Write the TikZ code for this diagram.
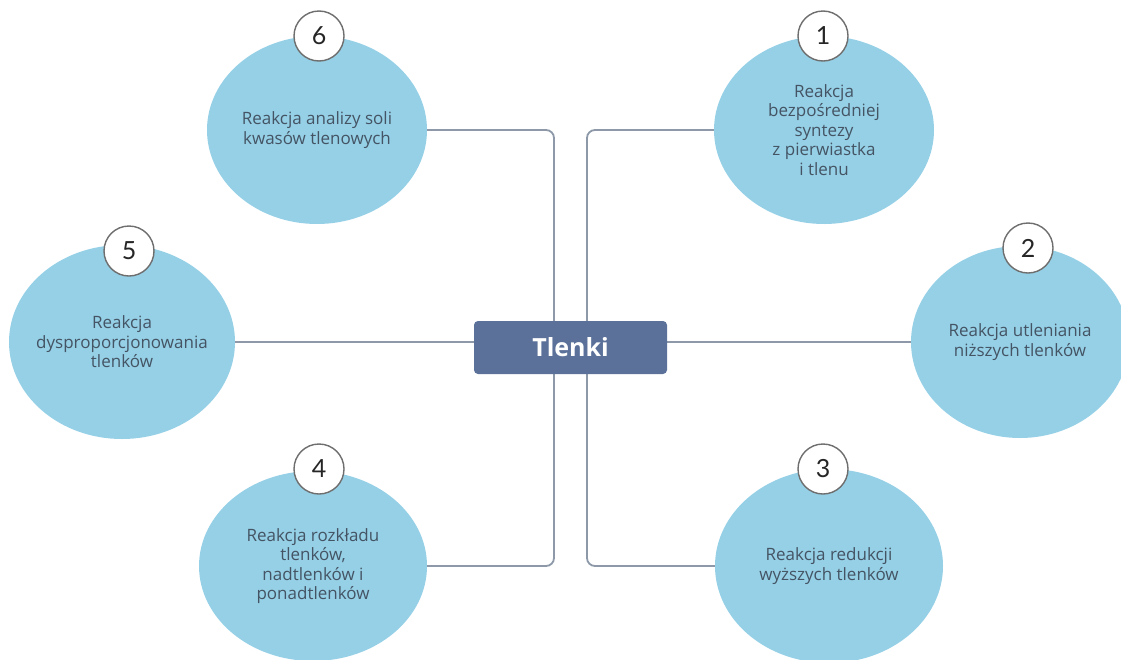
\documentclass[tikz,border=0pt]{standalone}
\usepackage{fontspec}
\setmainfont{Open Sans}
\newfontfamily\digitfont{Lato}
\usetikzlibrary{shapes.geometric,backgrounds}
\definecolor{bubblefill}{RGB}{150,208,230}
\definecolor{hubfill}{RGB}{91,113,153}
\definecolor{wirecol}{RGB}{141,153,168}
\definecolor{ink}{RGB}{68,84,100}
\definecolor{ringline}{RGB}{110,110,110}

\begin{document}
\begin{tikzpicture}[x=1pt,y=-1pt,
  bubble/.style={ellipse, fill=bubblefill, inner sep=0pt, outer sep=0pt},
  bubbletext/.style={align=center, text=ink, inner sep=0pt,
    font=\fontsize{17}{19.6}\selectfont},
  badge/.style={circle, fill=white, draw=ringline, line width=1.4pt,
    minimum size=50pt, inner sep=0pt, text=black!85,
    font=\digitfont\fontsize{25}{25}\selectfont},
  hub/.style={rounded corners=4pt, fill=hubfill, minimum width=193pt,
    minimum height=53pt, inner sep=0pt, text=white,
    font=\bfseries\fontsize{25}{25}\selectfont},
  wire/.style={draw=wirecol, line width=1.8pt, rounded corners=8pt}
]
\useasboundingbox (0,0) rectangle (1121,659);
\clip (0,0) rectangle (1121,659);

% central topic
\node[hub] (hub) at (570.5,347.5) {Tlenki};

% bus coordinates for the bracket connectors
\coordinate (lbus) at (554,342);
\coordinate (rbus) at (587,342);

% reaction bubbles
\node[bubble, minimum width=220pt, minimum height=188pt] (e6) at (317,130) {};
\node[bubble, minimum width=220pt, minimum height=188pt] (e1) at (824,130) {};
\node[bubble, minimum width=226pt, minimum height=194pt] (e5) at (122,342) {};
\node[bubble, minimum width=218pt, minimum height=192pt] (e2) at (1020,342) {};
\node[bubble, minimum width=228pt, minimum height=190pt] (e4) at (313,566) {};
\node[bubble, minimum width=228pt, minimum height=194pt] (e3) at (829,566) {};

\node[bubbletext] (t6) at (e6) {Reakcja analizy soli\\kwasów tlenowych};
\node[bubbletext] (t1) at (e1) {Reakcja\\bezpośredniej\\syntezy\\z pierwiastka\\i tlenu};
\node[bubbletext] (t5) at (e5) {Reakcja\\dysproporcjonowania\\tlenków};
\node[bubbletext] (t2) at (e2) {Reakcja utleniania\\niższych tlenków};
\node[bubbletext] (t4) at (e4) {Reakcja rozkładu\\tlenków,\\nadtlenków i\\ponadtlenków};
\node[bubbletext] (t3) at (e3) {Reakcja redukcji\\wyższych tlenków};

% number badges
\node[badge] (n6) at (319,36) {6};
\node[badge] (n1) at (823,36) {1};
\node[badge] (n5) at (129,251) {5};
\node[badge] (n2) at (1028,248) {2};
\node[badge] (n4) at (319,469) {4};
\node[badge] (n3) at (823,469) {3};

% connectors behind everything
\begin{pgfonlayer}{background}
  \draw[wire] (e6.east) -- (e6.east -| lbus) -- (e4.east -| lbus) -- (e4.east);
  \draw[wire] (e1.west) -- (e1.west -| rbus) -- (e3.west -| rbus) -- (e3.west);
  \draw[wire] (e5.east) -- (e5.east -| hub.west);
  \draw[wire] (e2.west) -- (e2.west -| hub.east);
\end{pgfonlayer}
\end{tikzpicture}
\end{document}
